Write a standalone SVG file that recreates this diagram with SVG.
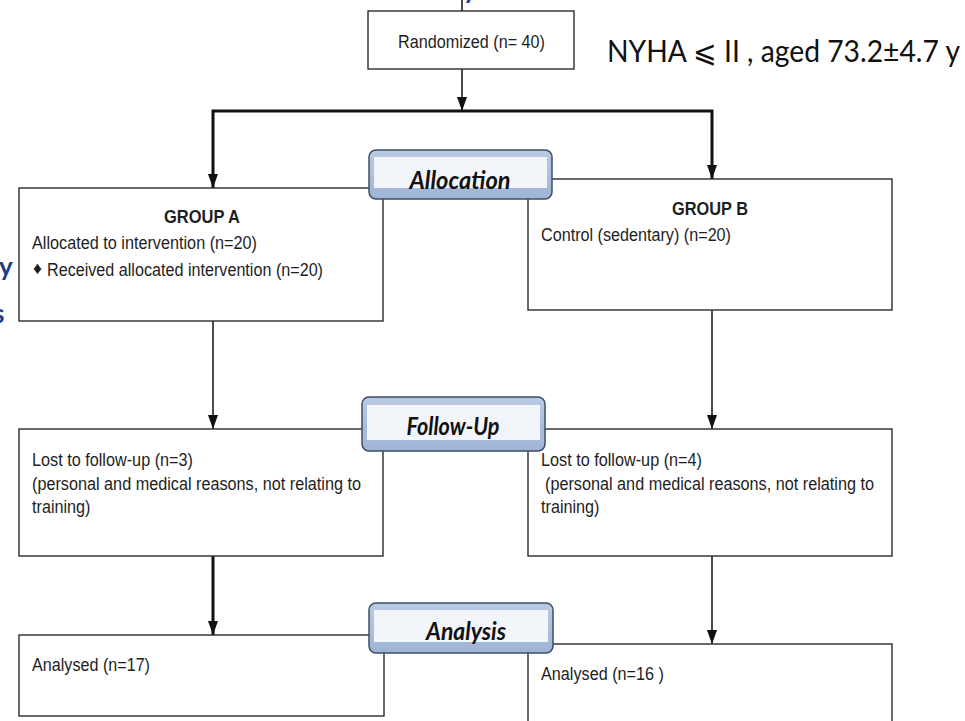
<svg xmlns="http://www.w3.org/2000/svg" width="965" height="721" viewBox="0 0 965 721">
<defs>
<marker id="ah" markerWidth="14" markerHeight="10" refX="14" refY="5" orient="auto-start-reverse" markerUnits="userSpaceOnUse" viewBox="0 0 14 10">
<path d="M0,0 L14,5 L0,10 Z" fill="#111"/>
</marker>
<linearGradient id="lblg" x1="0" y1="0" x2="0" y2="1">
<stop offset="0" stop-color="#b9cae3"/>
<stop offset="1" stop-color="#9fb5d6"/>
</linearGradient>
<style>
.box{fill:#fff;stroke:#2b2b2b;stroke-width:1.4}
.t{font-family:"Liberation Sans",Arial,sans-serif;font-size:17.5px;fill:#1e1e1e}
.tb{font-family:"Liberation Sans",Arial,sans-serif;font-size:17.5px;font-weight:bold;fill:#1e1e1e}
.thin{stroke:#111;stroke-width:1.5;fill:none}
.thick{stroke:#111;stroke-width:3;fill:none}
.lblo{fill:url(#lblg);stroke:#3e4d63;stroke-width:1.5}
.lbli{fill:#f2f5fa}
.lt{font-family:Lato,"Liberation Sans",sans-serif;font-size:25px;font-weight:bold;font-style:italic;fill:#111;text-anchor:middle}
.blue{font-family:Lato,"Liberation Sans",sans-serif;font-size:26px;font-weight:bold;fill:#1f3c88}
</style>
</defs>
<rect width="965" height="721" fill="#fff"/>

<g id="fragments">
<text class="blue" x="-1" y="276">y</text>
<text class="blue" x="-7" y="323">s</text>
<text class="blue" x="463" y="-1">y</text>
</g>

<g id="connectors">
<line class="thin" x1="462" y1="0" x2="462" y2="11"/>
<line class="thin" x1="462" y1="69" x2="462" y2="111" marker-end="url(#ah)"/>
<polyline class="thick" points="213,188 213,111 712,111 712,179" marker-start="url(#ah)" marker-end="url(#ah)"/>
<line class="thin" x1="213" y1="321" x2="213" y2="429" marker-end="url(#ah)"/>
<line class="thin" x1="712" y1="310" x2="712" y2="429" marker-end="url(#ah)"/>
<line class="thick" x1="213" y1="556" x2="213" y2="635" marker-end="url(#ah)"/>
<line class="thin" x1="712" y1="556" x2="712" y2="644" marker-end="url(#ah)"/>
</g>

<g id="randomized">
<rect class="box" x="368" y="11" width="206" height="58"/>
<text class="t" x="398" y="48" textLength="147" lengthAdjust="spacingAndGlyphs">Randomized (n= 40)</text>
</g>

<g id="nyha">
<text x="607" y="62" font-family="Lato,'Open Sans',sans-serif" font-size="30" fill="#111" textLength="353" lengthAdjust="spacingAndGlyphs">NYHA ⩽ II , aged 73.2±4.7 y</text>
</g>

<g id="groupA">
<rect class="box" x="19" y="188" width="364" height="133"/>
<text class="tb" x="164" y="223" textLength="76" lengthAdjust="spacingAndGlyphs">GROUP A</text>
<text class="t" x="32" y="249" textLength="225" lengthAdjust="spacingAndGlyphs">Allocated to intervention (n=20)</text>
<text class="t" x="33" y="274" font-size="10">♦</text>
<text class="t" x="47" y="276" textLength="276" lengthAdjust="spacingAndGlyphs">Received allocated intervention (n=20)</text>
</g>

<g id="groupB">
<rect class="box" x="528" y="179" width="364" height="131"/>
<text class="tb" x="672" y="215" textLength="76" lengthAdjust="spacingAndGlyphs">GROUP B</text>
<text class="t" x="541" y="241" textLength="190" lengthAdjust="spacingAndGlyphs">Control (sedentary) (n=20)</text>
</g>

<g id="lostA">
<rect class="box" x="19" y="429" width="364" height="127"/>
<text class="t" x="32" y="466" textLength="161" lengthAdjust="spacingAndGlyphs">Lost to follow-up (n=3)</text>
<text class="t" x="32" y="490" textLength="329" lengthAdjust="spacingAndGlyphs">(personal and medical reasons, not relating to</text>
<text class="t" x="32" y="513" textLength="58.5" lengthAdjust="spacingAndGlyphs">training)</text>
</g>

<g id="lostB">
<rect class="box" x="528" y="429" width="364" height="127"/>
<text class="t" x="541" y="466" textLength="161" lengthAdjust="spacingAndGlyphs">Lost to follow-up (n=4)</text>
<text class="t" x="545" y="490" textLength="329" lengthAdjust="spacingAndGlyphs">(personal and medical reasons, not relating to</text>
<text class="t" x="541" y="513" textLength="58.5" lengthAdjust="spacingAndGlyphs">training)</text>
</g>

<g id="analysedA">
<rect class="box" x="19" y="635" width="365" height="81"/>
<text class="t" x="32" y="671" textLength="118" lengthAdjust="spacingAndGlyphs">Analysed (n=17)</text>
</g>

<g id="analysedB">
<rect class="box" x="528" y="644" width="364" height="90"/>
<text class="t" x="541" y="680" textLength="123" lengthAdjust="spacingAndGlyphs">Analysed (n=16 )</text>
</g>

<g id="allocation">
<rect class="lblo" x="369" y="150" width="183" height="49" rx="7"/>
<rect class="lbli" x="374" y="157" width="173" height="31"/>
<text class="lt" x="460" y="189" textLength="101" lengthAdjust="spacingAndGlyphs">Allocation</text>
</g>

<g id="followup">
<rect class="lblo" x="362" y="397" width="183" height="54" rx="7"/>
<rect class="lbli" x="367" y="405" width="173" height="35"/>
<text class="lt" x="453" y="435" textLength="93" lengthAdjust="spacingAndGlyphs">Follow-Up</text>
</g>

<g id="analysis">
<rect class="lblo" x="369" y="603" width="184" height="50" rx="7"/>
<rect class="lbli" x="374" y="610" width="174" height="32"/>
<text class="lt" x="466" y="640" textLength="80" lengthAdjust="spacingAndGlyphs">Analysis</text>
</g>
</svg>
